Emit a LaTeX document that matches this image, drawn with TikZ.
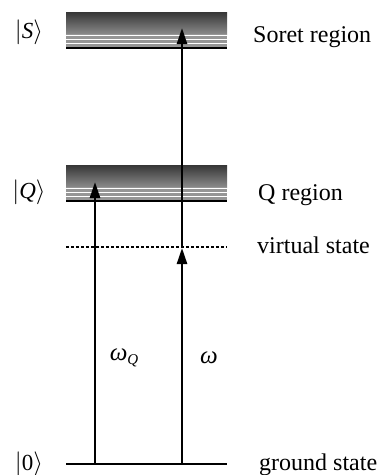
\documentclass[tikz,border=0pt]{standalone}
\usepackage{fontspec}
\setmainfont{Liberation Serif}
\usetikzlibrary{arrows.meta}
\definecolor{banddark}{HTML}{363636}
\definecolor{bandlight}{HTML}{8A8A8A}
\definecolor{bandgray}{HTML}{969696}
\begin{document}
\begin{tikzpicture}[x=1pt,y=-1pt,
  lvl/.style={line width=2.5pt},
  trans/.style={line width=2.4pt,-{Triangle[length=16pt,width=10pt]}},
  lbl/.style={anchor=base west,inner sep=0pt,font=\fontsize{24}{28}\selectfont},
  ket/.style={anchor=center,inner sep=0pt,font=\fontsize{23}{27}\selectfont},
  wlbl/.style={anchor=center,inner sep=0pt,font=\fontsize{25}{29}\selectfont}]
\useasboundingbox (0,0) rectangle (377,475);
% Soret band
\shade[top color=banddark,bottom color=bandlight] (66,12) rectangle (227,34);
\fill[bandgray] (66,34) rectangle (227,47);
\foreach \yy in {35.5,39.5,43.5}{\draw[white,line width=1pt] (66,\yy) -- (227,\yy);}
% Q band
\shade[top color=banddark,bottom color=bandlight] (66,165) rectangle (227,187);
\fill[bandgray] (66,187) rectangle (227,200);
\foreach \yy in {188.5,192.5,196.5}{\draw[white,line width=1pt] (66,\yy) -- (227,\yy);}
% levels
\coordinate (sL) at (66,48); \coordinate (sR) at (227,48);
\coordinate (qL) at (66,201); \coordinate (qR) at (227,201);
\coordinate (vL) at (66,247); \coordinate (vR) at (227,247);
\coordinate (gL) at (66,464); \coordinate (gR) at (227,464);
\draw[lvl] (sL) -- (sR);
\draw[lvl] (qL) -- (qR);
\draw[line width=1.3pt,dash pattern=on 3pt off 2pt] (vL) -- (vR);
\draw[lvl] (gL) -- (gR);
% transitions
\coordinate (g1) at (95,464); \coordinate (q1) at (95,182);
\coordinate (g2) at (182,464); \coordinate (v2) at (182,248); \coordinate (s2) at (182,28);
\draw[trans] (g1) -- (q1);
\draw[trans] (g2) -- (v2);
\draw[trans] (v2) -- (s2);
% labels
\node[ket] (kS) at (29,32) {$|$\textit{S}$\rangle$};
\node[ket] (kQ) at (29,192) {$|$\textit{Q}$\rangle$};
\node[ket] (k0) at (29,464) {$|$0$\rangle$};
\node[lbl] (tS) at (253,42) {Soret region};
\node[lbl] (tQ) at (258,200) {Q region};
\node[lbl] (tV) at (257,253) {virtual state};
\node[lbl] (tG) at (259,470) {ground state};
\node[wlbl] (wQ) at (124,358) {\textit{ω}\raisebox{-0.35ex}{\fontsize{15}{17}\selectfont\textit{Q}}};
\node[wlbl] (w) at (209,358) {\textit{ω}};
\end{tikzpicture}
\end{document}
